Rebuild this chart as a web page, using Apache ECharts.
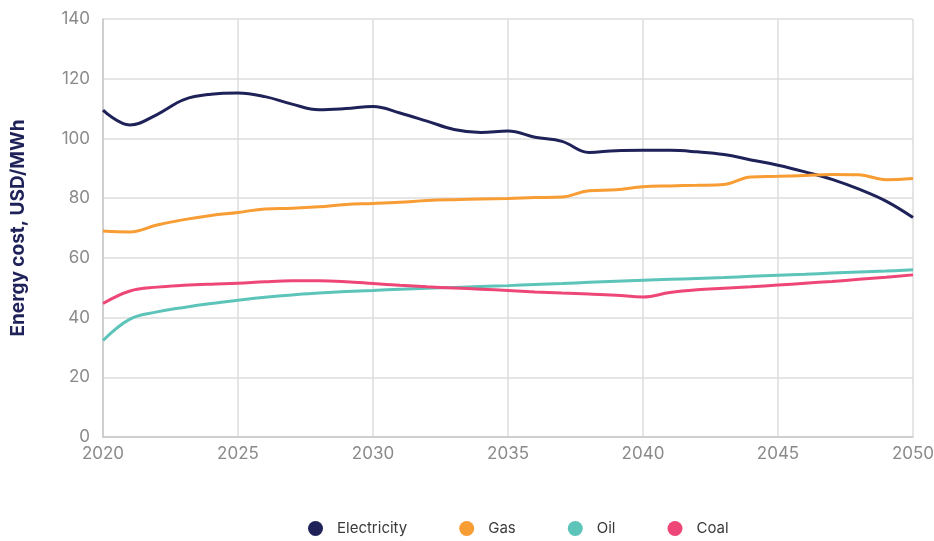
<!DOCTYPE html>
<html>
<head>
<meta charset="utf-8">
<script src="https://cdn.jsdelivr.net/npm/echarts@6/dist/echarts.min.js"></script>
<style>
  html, body { margin: 0; padding: 0; background: #fff; }
  #chart { width: 934px; height: 541px; }
</style>
</head>
<body>
<div id="chart"></div>
<script>
  // years 2020..2050
  const years = [];
  for (let y = 2020; y <= 2050; y++) years.push(y);

  const electricity = [109.5, 104.5, 108, 113, 114.8, 115.2, 114, 111.5, 109.6, 110, 110.7, 108.5, 105.8, 103, 102, 102.5, 100.4, 99, 95.3, 95.9, 96, 96, 95.5, 94.6, 92.8, 91, 88.8, 86.3, 83, 79, 73.5];
  const gas = [69, 68.7, 71, 72.8, 74.2, 75.2, 76.4, 76.6, 77.1, 77.9, 78.2, 78.6, 79.2, 79.5, 79.7, 79.9, 80.2, 80.4, 82.5, 82.8, 83.8, 84.1, 84.3, 84.6, 87.1, 87.3, 87.6, 87.9, 87.8, 86.2, 86.6];
  const oil = [32.3, 39.5, 41.9, 43.4, 44.7, 45.8, 46.8, 47.6, 48.2, 48.7, 49.1, 49.5, 49.8, 50.1, 50.4, 50.7, 51.1, 51.4, 51.8, 52.2, 52.5, 52.8, 53.1, 53.4, 53.8, 54.2, 54.5, 54.9, 55.3, 55.6, 56];
  const coal = [44.7, 48.9, 50.2, 50.8, 51.2, 51.5, 52, 52.3, 52.3, 52, 51.4, 50.8, 50.3, 49.9, 49.5, 49.1, 48.6, 48.2, 47.9, 47.5, 46.9, 48.4, 49.3, 49.8, 50.3, 50.9, 51.5, 52.1, 52.8, 53.5, 54.3];

  const seriesNames = ['Electricity', 'Gas', 'Oil', 'Coal'];
  const seriesColors = ['#1f2258', '#f89c34', '#5cc4b9', '#ee4777'];
  const seriesData = [electricity, gas, oil, coal];

  const chart = echarts.init(document.getElementById('chart'));

  const options = {
    animation: false,
    grid: {
      left: 103,
      right: 21,
      top: 19,
      bottom: 104,
      outerBoundsMode: 'none'
    },
    legend: {
      top: 521,
      left: 308,
      padding: 0,
      icon: 'circle',
      itemWidth: 15,
      itemHeight: 15,
      itemGap: 52,
      textStyle: {
        fontFamily: 'Inter',
        fontSize: 15,
        color: '#3a3a3a',
        padding: [0, 0, 0, 9]
      },
      data: seriesNames
    },
    xAxis: {
      type: 'value',
      min: 2020,
      max: 2050,
      interval: 5,
      axisLine: { show: true, lineStyle: { color: '#c8c8c8', width: 1.5 } },
      axisTick: { show: false },
      axisLabel: {
        fontFamily: 'Inter',
        fontSize: 17,
        color: '#8a8a8a',
        margin: 8,
        formatter: (v) => String(v)
      },
      splitLine: { show: true, lineStyle: { color: '#dcdcdc', width: 1.5 } }
    },
    yAxis: {
      type: 'value',
      min: 0,
      max: 140,
      interval: 20,
      name: 'Energy cost, USD/MWh',
      nameLocation: 'middle',
      nameGap: 75,
      nameTextStyle: {
        fontFamily: 'Inter',
        fontSize: 19,
        fontWeight: 'bold',
        color: '#1f2258'
      },
      axisLine: { show: true, lineStyle: { color: '#c8c8c8', width: 1.5 } },
      axisTick: { show: false },
      axisLabel: {
        fontFamily: 'Inter',
        fontSize: 17,
        color: '#8a8a8a',
        margin: 13
      },
      splitLine: { show: true, lineStyle: { color: '#dcdcdc', width: 1.5 } }
    },
    series: seriesNames.map((name, i) => ({
      name: name,
      type: 'line',
      smooth: 0.4,
      symbol: 'none',
      color: seriesColors[i],
      lineStyle: { width: 3, color: seriesColors[i] },
      data: years.map((yr, j) => [yr, seriesData[i][j]])
    }))
  };

  chart.setOption(options);
</script>
</body>
</html>
